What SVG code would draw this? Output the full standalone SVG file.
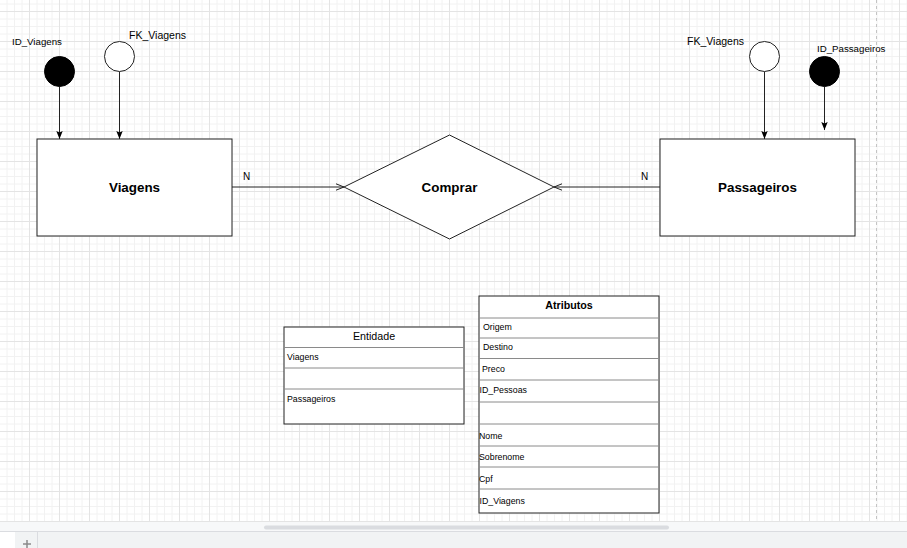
<svg xmlns="http://www.w3.org/2000/svg" width="907" height="548" viewBox="0 0 907 548">
<style>
text{font-family:"Liberation Sans",Arial,sans-serif;fill:#000}
.lbl{font-size:9.7px}
.fk{font-size:10.5px}
.big{font-size:13.4px;font-weight:bold;text-anchor:middle}
.row{font-size:8.8px}
.hdr{font-size:10.7px;text-anchor:middle}
.box{fill:#fff;stroke:#222;stroke-width:1}
.sep{stroke:#8a8a8a;stroke-width:1;fill:none}
.edge{stroke:#222;stroke-width:1;fill:none}
</style>
<defs>
<pattern id="grid" x="-1" y="11" width="30" height="30" patternUnits="userSpaceOnUse">
<path d="M8 0V30M15.5 0V30M23 0V30M0 8H30M0 15.5H30M0 23H30" stroke="#f2f2f2" stroke-width="1" fill="none"/>
<path d="M0.5 0V30M0 0.5H30" stroke="#e4e4e4" stroke-width="1" fill="none"/>
</pattern>
<marker id="block" viewBox="0 0 8 8" refX="8" refY="4" markerWidth="8" markerHeight="8" markerUnits="userSpaceOnUse" orient="auto">
<path d="M0 0.8L8 4L0 7.2L1.5 4Z" fill="#000"/>
</marker>
<marker id="open" viewBox="0 0 10 10" refX="9" refY="5" markerWidth="10" markerHeight="10" markerUnits="userSpaceOnUse" orient="auto">
<path d="M1 1.8L9 5L1 8.2" fill="none" stroke="#222" stroke-width="1"/>
</marker>
</defs>
<rect x="0" y="0" width="907" height="522" fill="#fff"/>
<rect x="0" y="0" width="907" height="522" fill="url(#grid)"/>
<line x1="876.5" y1="0" x2="876.5" y2="522" stroke="#c4c4c4" stroke-width="1" stroke-dasharray="3 3"/>
<rect x="0" y="522" width="907" height="10" fill="#f7f8f9"/>
<rect x="264" y="525.5" width="405" height="4" rx="2" fill="#dadce0"/>
<rect x="0" y="532" width="907" height="16" fill="#f1f3f4"/>
<line x1="0" y1="531.5" x2="907" y2="531.5" stroke="#dadce0"/>
<rect x="0" y="532" width="15" height="16" fill="#fff"/>
<line x1="37.5" y1="532" x2="37.5" y2="548" stroke="#dadce0"/>
<path d="M27 540V548M23 544H31" stroke="#8a8a8a" stroke-width="1.5"/>

<g id="connectors">
<line class="edge" x1="59.5" y1="86.5" x2="59.5" y2="139" marker-end="url(#block)"/>
<line class="edge" x1="119.5" y1="71.5" x2="119.5" y2="139" marker-end="url(#block)"/>
<line class="edge" x1="764.5" y1="71.5" x2="764.5" y2="139" marker-end="url(#block)"/>
<line class="edge" x1="824.5" y1="86.5" x2="824.5" y2="130" marker-end="url(#block)"/>
<line class="edge" x1="232" y1="187" x2="344" y2="187" marker-end="url(#open)"/>
<line class="edge" x1="660" y1="187" x2="554" y2="187" marker-end="url(#open)"/>
<text class="lbl" x="243" y="180" style="font-size:10px">N</text>
<text class="lbl" x="641" y="180" style="font-size:10px">N</text>
</g>

<g id="id_viagens">
<circle cx="59.5" cy="71.5" r="15" fill="#000" stroke="#000"/>
<text class="lbl" x="12" y="45">ID_Viagens</text>
</g>
<g id="fk_viagens_left">
<circle cx="119.5" cy="56.5" r="15" fill="#fff" stroke="#222"/>
<text class="fk" x="129" y="38.5">FK_Viagens</text>
</g>
<g id="fk_viagens_right">
<circle cx="764.5" cy="56.5" r="15" fill="#fff" stroke="#222"/>
<text class="fk" x="687" y="44.5">FK_Viagens</text>
</g>
<g id="id_passageiros">
<circle cx="824.5" cy="71.5" r="15" fill="#000" stroke="#000"/>
<text class="lbl" x="817" y="52">ID_Passageiros</text>
</g>

<g id="viagens">
<rect class="box" x="37" y="139" width="195" height="97"/>
<text class="big" x="134.5" y="191.7">Viagens</text>
</g>
<g id="comprar">
<polygon class="box" points="344,187 449.5,135 554,187 449.5,239"/>
<text class="big" x="449.5" y="191.7">Comprar</text>
</g>
<g id="passageiros">
<rect class="box" x="660" y="139" width="195" height="97"/>
<text class="big" x="757.5" y="191.7">Passageiros</text>
</g>

<g id="entidade">
<rect class="box" x="284" y="327" width="180" height="97"/>
<path class="sep" d="M284 347.5H464M284 368H464M284 389H464"/>
<text class="hdr" x="374" y="339.5">Entidade</text>
<text class="row" x="287" y="359.5">Viagens</text>
<text class="row" x="287" y="401.5">Passageiros</text>
</g>

<g id="atributos">
<rect class="box" x="479" y="296" width="180" height="217"/>
<path class="sep" d="M479 318H659M479 338H659M479 358.5H659M479 380H659M479 402H659M479 424H659M479 446H659M479 467H659M479 489H659"/>
<text class="hdr" x="569" y="308.5" style="font-weight:bold">Atributos</text>
<text class="row" x="483" y="329.5">Origem</text>
<text class="row" x="483" y="350">Destino</text>
<text class="row" x="482" y="371.5">Preco</text>
<text class="row" x="479.5" y="392.5">ID_Pessoas</text>
<text class="row" x="479" y="438.5">Nome</text>
<text class="row" x="479" y="460">Sobrenome</text>
<text class="row" x="479" y="481.5">Cpf</text>
<text class="row" x="479.5" y="503.5">ID_Viagens</text>
</g>
</svg>
